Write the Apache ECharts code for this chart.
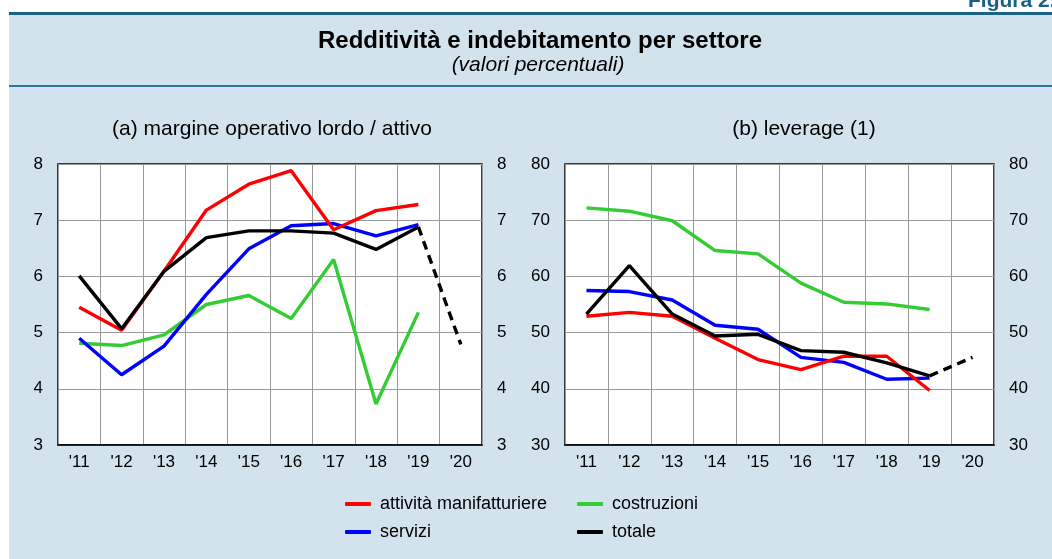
<!DOCTYPE html>
<html>
<head>
<meta charset="utf-8">
<script src="https://cdn.jsdelivr.net/npm/echarts@6/dist/echarts.min.js"></script>
<style>
  html, body { margin: 0; padding: 0; background: #fff; }
  #main { width: 1052px; height: 559px; }
</style>
</head>
<body>
<div id="main"></div>
<script>
// dati
var years = ["'11", "'12", "'13", "'14", "'15", "'16", "'17", "'18", "'19", "'20"];

// (a) margine operativo lordo / attivo
var mManif = [5.45, 5.04, 6.09, 7.18, 7.64, 7.88, 6.83, 7.17, 7.28, null];
var mCostr = [4.81, 4.77, 4.96, 5.50, 5.66, 5.25, 6.30, 3.73, 5.36, null];
var mServ  = [4.90, 4.25, 4.76, 5.68, 6.49, 6.90, 6.94, 6.72, 6.92, null];
var mTot   = [6.01, 5.07, 6.09, 6.69, 6.81, 6.81, 6.77, 6.48, 6.88, null];
var mTotPrev = [null, null, null, null, null, null, null, null, 6.88, 4.79];

// (b) leverage
var lManif = [52.9, 53.6, 52.9, 49.0, 45.2, 43.4, 45.8, 45.8, 39.7, null];
var lCostr = [72.2, 71.6, 69.9, 64.6, 64.0, 58.8, 55.4, 55.1, 54.1, null];
var lServ  = [57.5, 57.3, 55.8, 51.3, 50.6, 45.6, 44.7, 41.7, 41.9, null];
var lTot   = [53.3, 61.9, 53.3, 49.4, 49.7, 46.8, 46.5, 44.6, 42.3, null];
var lTotPrev = [null, null, null, null, null, null, null, null, 42.3, 45.6];

var leftTicks = [3, 8, 1];
var rightTicks = [30, 80, 10];

var font = 'Liberation Sans, Arial, sans-serif';
var names = ['attività manifatturiere', 'costruzioni', 'servizi', 'totale'];
var colors = ['#ff0000', '#33cc33', '#0000ff', '#000000'];

var chart = echarts.init(document.getElementById('main'));

function xAxis(idx) {
  return {
    type: 'category', gridIndex: idx, data: years, boundaryGap: true,
    axisLine: { lineStyle: { color: '#000', width: 1.5 } },
    axisTick: { show: false },
    axisLabel: { color: '#000', fontSize: 17, fontFamily: font, margin: 9 },
    splitLine: { show: true, lineStyle: { color: '#999', width: 1 } }
  };
}

function yAxis(idx, t, pos) {
  return {
    type: 'value', gridIndex: idx, position: pos, min: t[0], max: t[1], interval: t[2],
    axisLine: { show: false },
    axisTick: { show: false },
    axisLabel: { color: '#000', fontSize: 17, fontFamily: font, margin: 15 },
    splitLine: { show: pos === 'left', lineStyle: { color: '#999', width: 1 } }
  };
}

function line(name, data, color, xi, yi, dashed) {
  return {
    name: name, type: 'line', xAxisIndex: xi, yAxisIndex: yi, data: data,
    symbol: 'none', connectNulls: false, animation: false,
    lineStyle: { color: color, width: 3.4, type: dashed ? [9, 6] : 'solid' },
    itemStyle: { color: color }, z: 3
  };
}

var option = {
  backgroundColor: '#fff',
  animation: false,
  title: [
    { text: 'Redditività e indebitamento per settore', left: 535, top: 24, textAlign: 'center',
      textStyle: { fontFamily: font, fontSize: 24, fontWeight: 'bold', color: '#000' } },
    { text: '(valori percentuali)', left: 533, top: 50, textAlign: 'center',
      textStyle: { fontFamily: font, fontSize: 21, fontStyle: 'italic', fontWeight: 'normal', color: '#000' } },
    { text: '(a) margine operativo lordo / attivo', left: 267, top: 114, textAlign: 'center',
      textStyle: { fontFamily: font, fontSize: 21, fontWeight: 'normal', color: '#000' } },
    { text: '(b) leverage (1)', left: 799, top: 114, textAlign: 'center',
      textStyle: { fontFamily: font, fontSize: 21, fontWeight: 'normal', color: '#000' } }
  ],
  graphic: [
    { type: 'rect', shape: { x: 9, y: 14, width: 1043, height: 545 }, style: { fill: '#d2e3ed' }, z: -10 },
    { type: 'rect', shape: { x: 9, y: 12, width: 1043, height: 3 }, style: { fill: '#1a6385' }, z: -9 },
    { type: 'rect', shape: { x: 9, y: 85, width: 1043, height: 2 }, style: { fill: '#2f7597' }, z: -9 },
    { type: 'text', left: 968, top: -9,
      style: { text: 'Figura 2.5', fill: '#1b5e85', font: 'bold 21px ' + font } }
  ],
  legend: [
    { data: [names[0], names[2]], orient: 'vertical', left: 340, top: 490, itemGap: 10,
      itemWidth: 26, itemHeight: 4, icon: 'roundRect',
      textStyle: { fontFamily: font, fontSize: 18, color: '#000', padding: [0, 0, 0, 4] } },
    { data: [names[1], names[3]], orient: 'vertical', left: 572, top: 490, itemGap: 10,
      itemWidth: 26, itemHeight: 4, icon: 'roundRect',
      textStyle: { fontFamily: font, fontSize: 18, color: '#000', padding: [0, 0, 0, 4] } }
  ],
  grid: [
    { left: 58, top: 164, width: 424, height: 281, show: true, backgroundColor: '#fff',
      borderColor: '#000', borderWidth: 1.5 },
    { left: 565, top: 164, width: 429, height: 281, show: true, backgroundColor: '#fff',
      borderColor: '#000', borderWidth: 1.5 }
  ],
  xAxis: [xAxis(0), xAxis(1)],
  yAxis: [
    yAxis(0, leftTicks, 'left'), yAxis(0, leftTicks, 'right'),
    yAxis(1, rightTicks, 'left'), yAxis(1, rightTicks, 'right')
  ],
  series: [
    line(names[1], mCostr, colors[1], 0, 0),
    line(names[2], mServ, colors[2], 0, 0),
    line(names[0], mManif, colors[0], 0, 0),
    line(names[3], mTot, colors[3], 0, 0),
    line('totale (previsione)', mTotPrev, colors[3], 0, 0, true),
    line(names[1], lCostr, colors[1], 1, 2),
    line(names[2], lServ, colors[2], 1, 2),
    line(names[0], lManif, colors[0], 1, 2),
    line(names[3], lTot, colors[3], 1, 2),
    line('totale (previsione) b', lTotPrev, colors[3], 1, 2, true)
  ]
};

chart.setOption(option);
</script>
</body>
</html>
